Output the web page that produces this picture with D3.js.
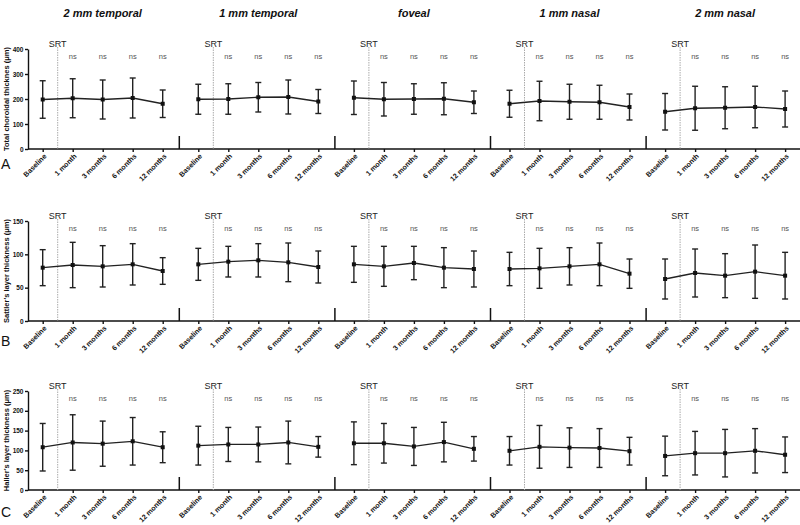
<!DOCTYPE html>
<html>
<head>
<meta charset="UTF-8">
<title></title>
<style>
  body { margin: 0; background: #fff; }
  svg { font-family: "Liberation Sans", Arial, sans-serif; }
  .axis path, .axis line { fill: none; stroke: #111; stroke-width: 1.4; }
  .axis text { font-size: 6.5px; font-weight: bold; fill: #111; }
  .xlab text { font-size: 7.1px; font-weight: bold; fill: #111; }
</style>
</head>
<body>
<script src="https://cdn.jsdelivr.net/npm/d3@7"></script>
<script>
// panels (retinal location) and time points
var panels = ["2 mm temporal", "1 mm temporal", "foveal", "1 mm nasal", "2 mm nasal"];
var timepoints = ["Baseline", "1 month", "3 months", "6 months", "12 months"];

// A: total choroidal thickness, mean and SD per panel
var totalMean = [[198, 203, 198, 204, 181], [199, 200, 207, 208, 190], [205, 199, 200, 201, 187], [181, 192, 189, 187, 168], [149, 163, 165, 168, 160]];
var totalSD   = [[75, 78, 78, 80, 55], [60, 61, 59, 68, 48], [67, 67, 61, 64, 45], [54, 79, 70, 68, 52], [73, 88, 84, 83, 72]];
// B: Sattler's layer
var sattlerMean = [[80, 84, 82, 85, 75], [85, 89, 91, 88, 81], [85, 82, 87, 80, 78], [78, 79, 82, 85, 71], [63, 72, 68, 74, 68]];
var sattlerSD   = [[27, 34, 31, 31, 20], [24, 23, 25, 29, 24], [27, 30, 25, 30, 27], [25, 30, 28, 32, 22], [30, 36, 33, 40, 35]];
// C: Haller's layer
var hallerMean = [[108, 120, 117, 123, 108], [112, 115, 115, 120, 109], [118, 118, 110, 121, 104], [99, 109, 107, 106, 98], [86, 93, 93, 99, 89]];
var hallerSD   = [[60, 70, 57, 60, 39], [49, 43, 44, 54, 26], [54, 50, 48, 50, 31], [36, 54, 50, 49, 35], [50, 55, 60, 56, 45]];

var totalTicks = [0, 100, 200, 300, 400];
var sattlerTicks = [0, 50, 100, 150];
var hallerTicks = [0, 50, 100, 150, 200, 250];

var rowLetters = ["A", "B", "C"];
var rowTitles = ["Total choroidal thicknes (\u03bcm)", "Sattler's layer thickness (\u03bcm)", "Haller's layer thickness (\u03bcm)"];

var rows = [
  {mean: totalMean, sd: totalSD, ticks: totalTicks, top: 49, bottom: 149, letterY: 169},
  {mean: sattlerMean, sd: sattlerSD, ticks: sattlerTicks, top: 221, bottom: 321, letterY: 346},
  {mean: hallerMean, sd: hallerSD, ticks: hallerTicks, top: 391, bottom: 490, letterY: 517}
];

var svg = d3.select("body").append("svg")
  .attr("width", 800)
  .attr("height", 525);

var axisX = 28, panelW = 155.6;
var xPanel = d3.scaleBand().domain(panels).range([axisX, axisX + panelW * 5]);
var xTime = d3.scalePoint().domain(timepoints).range([14.7, 134.7]);

// panel titles
svg.selectAll(".ptitle")
  .data(panels)
  .enter()
  .append("text")
  .attr("x", function(d) { return xPanel(d) + xTime("3 months"); })
  .attr("y", 17)
  .attr("text-anchor", "middle")
  .style("font-size", "11px")
  .style("font-weight", "bold")
  .style("font-style", "italic")
  .attr("fill", "#111")
  .text(function(d) { return d; });

rows.forEach(function(row, r) {
  var y = d3.scaleLinear()
    .domain([0, d3.max(row.ticks)])
    .range([row.bottom, row.top]);

  var g = svg.append("g");

  // y axis
  g.append("g")
    .attr("class", "axis")
    .attr("transform", "translate(" + axisX + ",0)")
    .call(d3.axisLeft(y).tickValues(row.ticks).tickSize(3).tickPadding(1.5).tickSizeOuter(0));

  // y title
  g.append("text")
    .attr("transform", "translate(9," + (row.top + row.bottom) / 2 + ") rotate(-90)")
    .attr("text-anchor", "middle")
    .style("font-size", "7.5px")
    .style("font-weight", "bold")
    .attr("fill", "#111")
    .text(rowTitles[r]);

  // row letter
  g.append("text")
    .attr("x", 1)
    .attr("y", row.letterY)
    .style("font-size", "14px")
    .attr("fill", "#111")
    .text(rowLetters[r]);

  // continuous x axis line
  g.append("line")
    .attr("x1", axisX).attr("x2", 800)
    .attr("y1", row.bottom).attr("y2", row.bottom)
    .attr("stroke", "#111")
    .attr("stroke-width", 1.5);

  panels.forEach(function(p, i) {
    var px = xPanel(p);
    var xs = d3.scalePoint().domain(timepoints).range([px + xTime.range()[0], px + xTime.range()[1]]);

    var ax = g.append("g")
      .attr("class", "axis xlab")
      .attr("transform", "translate(0," + row.bottom + ")")
      .call(d3.axisBottom(xs).tickSize(3).tickSizeOuter(0));
    ax.select(".domain").remove();
    ax.selectAll("text")
      .attr("x", 0).attr("y", 0).attr("dy", "0.35em")
      .attr("text-anchor", "end")
      .attr("transform", "translate(2,6) rotate(-45)");

    // axis break mark
    if (i < panels.length - 1) {
      g.append("line")
        .attr("x1", px + 151.3).attr("x2", px + 151.3)
        .attr("y1", row.bottom - 13).attr("y2", row.bottom)
        .attr("stroke", "#111")
        .attr("stroke-width", 1.5);
    }

    // SRT marker
    var sx = (xs("Baseline") + xs("1 month")) / 2;
    g.append("line")
      .attr("x1", sx).attr("x2", sx)
      .attr("y1", row.top - 2).attr("y2", row.bottom)
      .attr("stroke", "#aaa")
      .attr("stroke-width", 1)
      .attr("stroke-dasharray", "1.5,1");
    g.append("text")
      .attr("x", sx)
      .attr("y", row.top - 2)
      .attr("text-anchor", "middle")
      .style("font-size", "9px")
      .attr("fill", "#222")
      .text("SRT");

    // ns labels
    g.selectAll(".ns" + i)
      .data(timepoints.slice(1))
      .enter()
      .append("text")
      .attr("x", function(d) { return xs(d); })
      .attr("y", row.top + 10)
      .attr("text-anchor", "middle")
      .style("font-size", "7.5px")
      .attr("fill", "#555")
      .text("ns");

    var pts = timepoints.map(function(t, k) {
      return {t: t, m: row.mean[i][k], s: row.sd[i][k]};
    });

    // error bars
    var eb = g.selectAll(".eb" + i)
      .data(pts)
      .enter()
      .append("g");
    eb.append("line")
      .attr("x1", function(d) { return xs(d.t); })
      .attr("x2", function(d) { return xs(d.t); })
      .attr("y1", function(d) { return y(d.m - d.s); })
      .attr("y2", function(d) { return y(d.m + d.s); })
      .attr("stroke", "#222").attr("stroke-width", 1.4);
    [-1, 1].forEach(function(sgn) {
      eb.append("line")
        .attr("x1", function(d) { return xs(d.t) - 3; })
        .attr("x2", function(d) { return xs(d.t) + 3; })
        .attr("y1", function(d) { return y(d.m + sgn * d.s); })
        .attr("y2", function(d) { return y(d.m + sgn * d.s); })
        .attr("stroke", "#222").attr("stroke-width", 1.4);
    });

    // mean line
    g.append("path")
      .datum(pts)
      .attr("fill", "none")
      .attr("stroke", "#222")
      .attr("stroke-width", 1.3)
      .attr("d", d3.line()
        .x(function(d) { return xs(d.t); })
        .y(function(d) { return y(d.m); }));

    // markers
    g.selectAll(".pt" + i)
      .data(pts)
      .enter()
      .append("rect")
      .attr("x", function(d) { return xs(d.t) - 2; })
      .attr("y", function(d) { return y(d.m) - 2; })
      .attr("width", 4)
      .attr("height", 4)
      .attr("fill", "#111");
  });
});
</script>
</body>
</html>
